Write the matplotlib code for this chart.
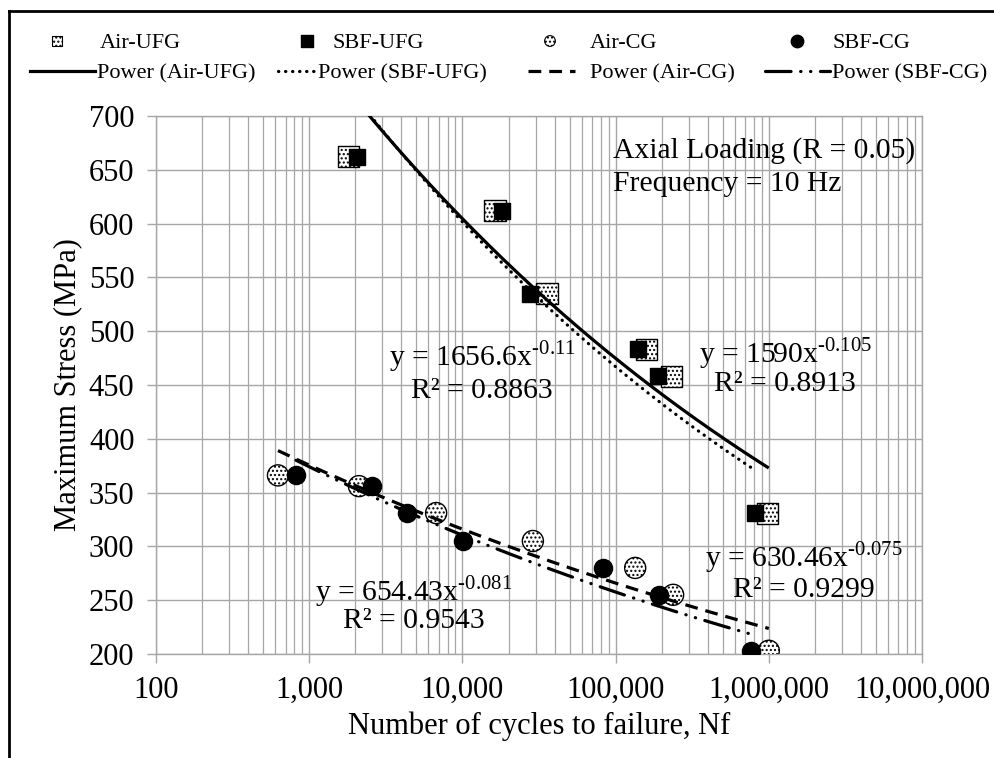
import numpy as np
import matplotlib
matplotlib.use("Agg")
from matplotlib import pyplot as plt

plt.rcParams['font.family'] = ['Liberation Serif', 'DejaVu Serif']
plt.rcParams['mathtext.fontset'] = 'custom'
plt.rcParams['mathtext.rm'] = 'Liberation Serif'
plt.rcParams['hatch.linewidth'] = 1.0

# ----------------- Data -----------------
air_ufg_n = [1800, 16300, 35600, 159600, 232000, 977000]
air_ufg_s = [662, 612, 535, 483, 458, 331]
sbf_ufg_n = [2050, 18200, 27600, 139600, 188000, 805000]
sbf_ufg_s = [662, 612, 535, 483, 458, 331]
air_cg_n = [625, 2110, 6730, 28800, 134000, 237000, 998000]
air_cg_s = [366, 356, 331, 305, 280, 255, 203]
sbf_cg_n = [820, 2570, 4340, 10100, 82800, 192000, 765000]
sbf_cg_s = [366, 356, 331, 305, 280, 255, 203]

# power trendlines y = a * x^b, with R^2
fit_air_ufg = (1590, -0.105, 0.8913)
fit_sbf_ufg = (1656.6, -0.11, 0.8863)
fit_air_cg = (630.46, -0.075, 0.9299)
fit_sbf_cg = (654.43, -0.081, 0.9543)

series_names = ['Air-UFG', 'SBF-UFG', 'Air-CG', 'SBF-CG']

x_ticks = [100, 1000, 10000, 100000, 1000000, 10000000]
x_labels = ['100', '1,000', '10,000', '100,000', '1,000,000', '10,000,000']
y_ticks = [200, 250, 300, 350, 400, 450, 500, 550, 600, 650, 700]

FS_TICK = 22
FS_TXT = 21.3
grid_c = '#a6a6a6'

# ----------------- Figure -----------------
fig = plt.figure(figsize=(9.95, 7.58), dpi=100)
ax = fig.add_axes([0.1568, 0.1372, 0.77, 0.7098])

ax.set_xscale('log')
ax.set_xlim(100, 1e7)
ax.set_ylim(200, 700)
ax.set_xticks(x_ticks)
ax.set_xticklabels(x_labels)
ax.set_yticks(y_ticks)
ax.xaxis.set_minor_locator(matplotlib.ticker.LogLocator(base=10, subs=np.arange(2, 10)))
ax.xaxis.set_minor_formatter(matplotlib.ticker.NullFormatter())
ax.grid(True, which='major', color=grid_c, lw=1.0)
ax.grid(True, which='minor', axis='x', color=grid_c, lw=0.9)
ax.set_axisbelow(True)
for side in ax.spines:
    ax.spines[side].set_color(grid_c)
    ax.spines[side].set_linewidth(1.0)
ax.tick_params(axis='both', which='major', direction='out', length=6.5, width=1,
               color=grid_c, labelsize=FS_TICK)
ax.tick_params(axis='y', pad=9)
ax.tick_params(axis='x', pad=9)
ax.tick_params(axis='x', which='minor', length=0)

ax.set_xlabel('Number of cycles to failure, Nf', fontsize=FS_TICK, labelpad=5)
ax.set_ylabel('Maximum Stress (MPa)', fontsize=FS_TICK, labelpad=5)


def power_line(fit, n):
    xs = np.logspace(np.log10(min(n)), np.log10(max(n)), 200)
    return xs, fit[0] * xs ** fit[1]


# scatter markers (series order as in Excel)
ax.scatter(air_ufg_n, air_ufg_s, marker='s', s=230, facecolor='white',
           edgecolor='black', linewidth=1.0, hatch='....', zorder=3)
ax.scatter(sbf_ufg_n, sbf_ufg_s, marker='s', s=130, color='black', zorder=4)
ax.scatter(air_cg_n, air_cg_s, marker='o', s=230, facecolor='white',
           edgecolor='black', linewidth=1.0, hatch='....', zorder=5)
ax.scatter(sbf_cg_n, sbf_cg_s, marker='o', s=170, color='black', zorder=6)

# trendline styles
styles = [
    dict(ls='-'),
    dict(ls=(0, (0.1, 2.1)), dash_capstyle='round'),
    dict(ls=(0, (4, 2.5))),
    dict(ls=(0, (8, 3, 0.1, 3, 0.1, 3)), dash_capstyle='round'),
]
fits = [fit_air_ufg, fit_sbf_ufg, fit_air_cg, fit_sbf_cg]
ns = [air_ufg_n, sbf_ufg_n, air_cg_n, sbf_cg_n]
for fit, n, st in zip(fits, ns, styles):
    xs, ys = power_line(fit, n)
    ax.plot(xs, ys, color='black', lw=2.3, zorder=7, **st)


# equations
def eq_label(fit, x, y_eq, y_r2):
    ax.text(x, y_eq, 'y = %gx$^{\\mathregular{%s}}$' % (fit[0], ('%g' % fit[1]).replace('-', '\u2010')),
            fontsize=FS_TXT, ha='center', va='center_baseline', zorder=8)
    ax.text(x, y_r2, 'R² = %.4f' % fit[2], fontsize=FS_TXT, ha='center',
            va='center_baseline', zorder=8)


eq_label(fit_sbf_ufg, 13400, 480, 447)
eq_label(fit_air_ufg, 1.28e6, 483, 454)
eq_label(fit_air_cg, 1.7e6, 294, 262)
eq_label(fit_sbf_cg, 4830, 262, 233)
ax.text(96000, 671, 'Axial Loading (R = 0.05)', fontsize=FS_TXT, ha='left',
        va='center_baseline', zorder=8)
ax.text(96000, 640, 'Frequency = 10 Hz', fontsize=FS_TXT, ha='left',
        va='center_baseline', zorder=8)

# ----------------- Legend + outer frame (overlay in pixel units) -----------------
lax = fig.add_axes([0, 0, 1, 1], zorder=10)
lax.set_xlim(0, 995)
lax.set_ylim(758, 0)
lax.axis('off')
lax.patch.set_alpha(0)

row1_y, row2_y = 41, 71
mark_x = [57, 307, 550, 797]
text1_x = [100, 333, 590, 832]
line_x = [(30, 95), (278, 315), (528, 575), (765, 830)]
text2_x = [97, 318, 590, 832]
lax.scatter([mark_x[0]], [row1_y], marker='s', s=45, facecolor='white', edgecolor='black',
            linewidth=0.8, hatch='....')
lax.scatter([mark_x[1]], [row1_y], marker='s', s=80, color='black')
lax.scatter([mark_x[2]], [row1_y], marker='o', s=60, facecolor='white', edgecolor='black',
            linewidth=0.8, hatch='....')
lax.scatter([mark_x[3]], [row1_y], marker='o', s=80, color='black')
for i, name in enumerate(series_names):
    lax.text(text1_x[i], row1_y, name, fontsize=16, ha='left', va='center_baseline')
    lax.plot(line_x[i], [row2_y, row2_y], color='black', lw=2.3, **styles[i])
    lax.text(text2_x[i], row2_y, 'Power (%s)' % name, fontsize=16, ha='left',
             va='center_baseline')

lax.plot([9, 9], [11, 758], color='black', lw=2.0, solid_capstyle='projecting')
lax.plot([9, 995], [11, 11], color='black', lw=2.0, solid_capstyle='projecting')

fig.savefig('out.png', dpi=100)
